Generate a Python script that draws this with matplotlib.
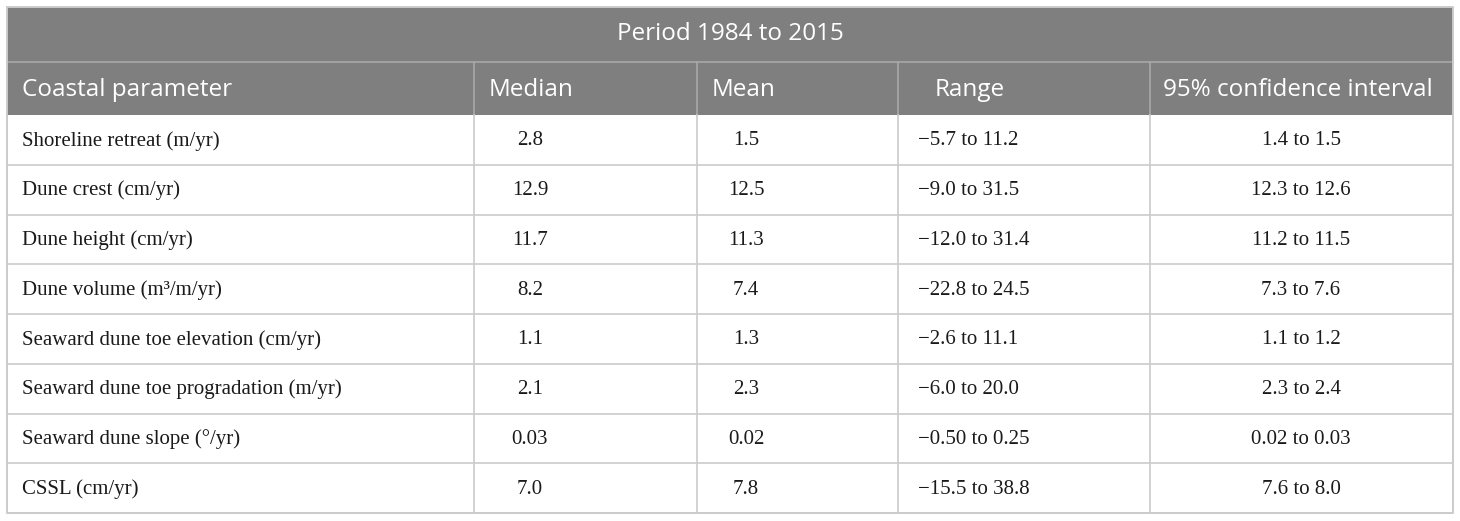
import matplotlib
matplotlib.use("Agg")
import matplotlib.pyplot as plt
from matplotlib.patches import Rectangle

# table content
title = "Period 1984 to 2015"
headers = ["Coastal parameter", "Median", "Mean", "Range", "95% confidence interval"]
parameters = [
    "Shoreline retreat (m/yr)",
    "Dune crest (cm/yr)",
    "Dune height (cm/yr)",
    "Dune volume (m\u00b3/m/yr)",
    "Seaward dune toe elevation (cm/yr)",
    "Seaward dune toe progradation (m/yr)",
    "Seaward dune slope (\u00b0/yr)",
    "CSSL (cm/yr)",
]
medians = ["2.8", "12.9", "11.7", "8.2", "1.1", "2.1", "0.03", "7.0"]
means = ["1.5", "12.5", "11.3", "7.4", "1.3", "2.3", "0.02", "7.8"]
ranges = [
    "\u22125.7 to 11.2",
    "\u22129.0 to 31.5",
    "\u221212.0 to 31.4",
    "\u221222.8 to 24.5",
    "\u22122.6 to 11.1",
    "\u22126.0 to 20.0",
    "\u22120.50 to 0.25",
    "\u221215.5 to 38.8",
]
conf_intervals = [
    "1.4 to 1.5",
    "12.3 to 12.6",
    "11.2 to 11.5",
    "7.3 to 7.6",
    "1.1 to 1.2",
    "2.3 to 2.4",
    "0.02 to 0.03",
    "7.6 to 8.0",
]


def draw_table(path):
    W, H = 1460, 521
    fig = plt.figure(figsize=(W / 100, H / 100), dpi=100)
    ax = fig.add_axes([0, 0, 1, 1])
    ax.set_xlim(0, W)
    ax.set_ylim(H, 0)
    ax.axis("off")

    # layout in pixels
    col_edges = [7, 474, 697, 898, 1150, 1453]
    top, mid, head_bottom, bottom = 7, 62, 115, 513
    n = len(parameters)
    row_h = (bottom - head_bottom) / n

    header_grey = "#7f7f7f"
    head_line = "#a9a9a9"
    grid = "#cbcbcb"

    ax.add_patch(Rectangle((col_edges[0], top), col_edges[-1] - col_edges[0],
                           head_bottom - top, facecolor=header_grey, edgecolor="none"))

    # header lines
    ax.plot([col_edges[0], col_edges[-1]], [mid, mid], color=head_line, lw=1.2)
    for xe in col_edges[1:-1]:
        ax.plot([xe, xe], [mid, head_bottom], color=head_line, lw=1.2)

    # body grid
    for i in range(1, n):
        yy = head_bottom + i * row_h
        ax.plot([col_edges[0], col_edges[-1]], [yy, yy], color=grid, lw=1.2)
    for xe in col_edges[1:-1]:
        ax.plot([xe, xe], [head_bottom, bottom], color=grid, lw=1.2)

    # outer border
    ax.plot([col_edges[0], col_edges[-1], col_edges[-1], col_edges[0], col_edges[0]],
            [top, top, bottom, bottom, top], color=grid, lw=1.4)

    # header text
    head_font = dict(family="Open Sans", size=17.5, color="white", va="center")
    ax.text((col_edges[0] + col_edges[-1]) / 2, (top + mid) / 2, title, ha="center", **head_font)
    head_x = [22, 489, 712, 935, 1163]
    for hx, h in zip(head_x, headers):
        ax.text(hx, (mid + head_bottom) / 2 + 1, h, ha="left", **head_font)

    # body text
    body_font = dict(family="Liberation Serif", size=15, color="#1a1a1a", va="center")
    for i in range(n):
        yc = head_bottom + (i + 0.5) * row_h + 1
        ax.text(22, yc, parameters[i], ha="left", **body_font)
        ax.text(530, yc, medians[i], ha="center", **body_font)
        ax.text(746, yc, means[i], ha="center", **body_font)
        ax.text(918, yc, ranges[i], ha="left", **body_font)
        ax.text(1301, yc, conf_intervals[i], ha="center", **body_font)

    fig.savefig(path, dpi=100, facecolor="white")
    return True


if __name__ == "__main__":
    draw_table("out.png")
